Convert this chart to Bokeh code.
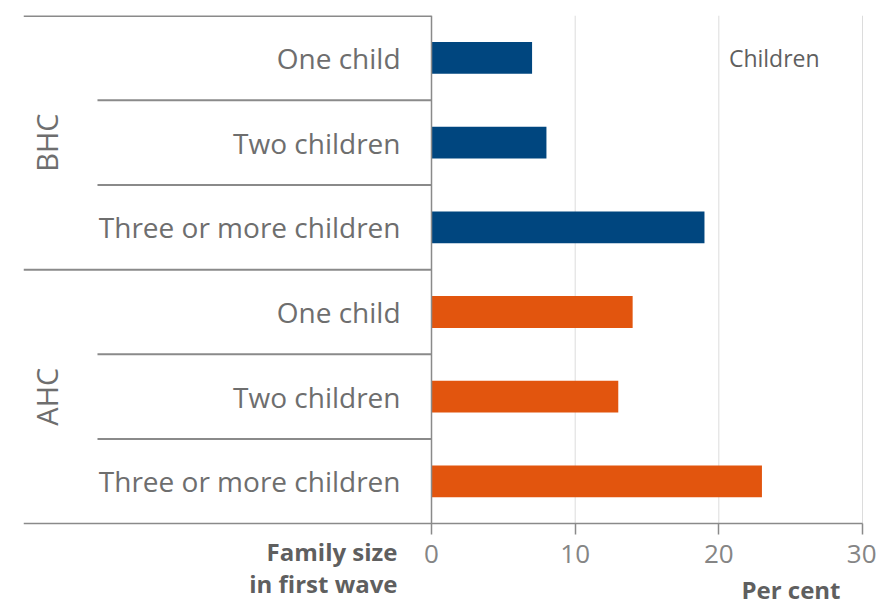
import math
from bokeh.plotting import figure
from bokeh.models import FactorRange, Range1d, FixedTicker, ColumnDataSource
from bokeh.core.properties import value
from bokeh.embed import file_html
from bokeh.resources import INLINE

# ---- data ----
groups = ["BHC", "AHC"]
family_sizes = ["One child", "Two children", "Three or more children"]
bhc_values = [7, 8, 19]
ahc_values = [14, 13, 23]
x_ticks = [0, 10, 20, 30]
series_label = "Children"
y_title = ["Family size", "in first wave"]
x_title = "Per cent"
group_colors = {"BHC": "#00467f", "AHC": "#e2550e"}

values_by_group = {"BHC": bhc_values, "AHC": ahc_values}

# factors listed bottom-to-top so that BHC / One child sits at the top
factors = [(g, s) for g in reversed(groups) for s in reversed(family_sizes)]
vals = [values_by_group[g][family_sizes.index(s)] for g, s in factors]
colors = [group_colors[g] for g, s in factors]

# an empty band under the table holds the axis titles
pad_factor = (" ", " ")
pad_top = pad_factor + (0.5,)

FONT = value("Open Sans")
W, H = 876, 608
X0, X1 = -28.4, 30.974          # a little room right of the last tick for its label
SUB_LINE_START = -23.25
LINE_COLOR = "#8a8a8a"
TEXT_COLOR = "#6e6e6e"
TITLE_COLOR = "#5f5f5f"

p = figure(width=W, height=H, output_backend="svg", toolbar_location=None,
           x_range=Range1d(X0, X1),
           y_range=FactorRange(factors=[pad_factor] + factors, factor_padding=0,
                               group_padding=0, subgroup_padding=0, range_padding=0),
           y_axis_location=None,
           min_border_left=23, min_border_right=0, min_border_top=15, min_border_bottom=0)
p.outline_line_color = None
p.xgrid.visible = False
p.ygrid.visible = False
p.background_fill_color = "white"

top_edge = (groups[0], family_sizes[0], 0.5)
bottom_edge = (groups[-1], family_sizes[-1], -0.5)

# vertical grid lines at the ticks (stop at the axis)
p.segment(x0=x_ticks[1:], y0=[bottom_edge] * len(x_ticks[1:]),
          x1=x_ticks[1:], y1=[top_edge] * len(x_ticks[1:]),
          line_color="#dcdcdc", line_width=1)

# axis, drawn on the boundary between the table and the empty band
xa = p.xaxis[0]
xa.fixed_location = float(len([pad_factor]))
xa.bounds = (X0, x_ticks[-1])
xa.ticker = FixedTicker(ticks=x_ticks)
xa.axis_line_color = LINE_COLOR
xa.axis_line_width = 1.5
xa.major_tick_line_color = LINE_COLOR
xa.major_tick_line_width = 1.5
xa.major_tick_out = 11
xa.major_tick_in = 0
xa.minor_tick_line_color = None
xa.major_label_text_font = "Open Sans"
xa.major_label_text_font_size = "26px"
xa.major_label_text_color = "#858585"
xa.major_label_standoff = 10

# bars
src = ColumnDataSource(dict(y=factors, v=vals, c=colors))
p.hbar(y="y", left=0, right="v", height=0.375, fill_color="c", line_color=None, source=src)

# vertical line at zero
p.segment(x0=[0], y0=[bottom_edge], x1=[0], y1=[top_edge], line_color=LINE_COLOR, line_width=1.5)

# table separator lines (built from categories)
seg_y, seg_x0, seg_w = [], [], []
seg_y.append(top_edge); seg_x0.append(X0); seg_w.append(3)
for gi, g in enumerate(groups):
    for s in family_sizes[:-1]:
        seg_y.append((g, s, -0.5)); seg_x0.append(SUB_LINE_START); seg_w.append(2)
    if gi < len(groups) - 1:
        seg_y.append((g, family_sizes[-1], -0.5)); seg_x0.append(X0); seg_w.append(2)
p.segment(x0="x0", y0="y", x1=0, y1="y", line_color=LINE_COLOR, line_width="w",
          source=ColumnDataSource(dict(x0=seg_x0, y=seg_y, w=seg_w)))

# category labels
p.text(x=0, y=factors, text=[s for g, s in factors], x_offset=-31,
       text_align="right", text_baseline="middle", text_font=FONT,
       text_font_size="28px", text_color=TEXT_COLOR)

# group labels (rotated)
p.text(x=X0, y=[(g, family_sizes[1]) for g in groups], text=groups, angle=math.pi / 2,
       x_offset=23, text_align="center", text_baseline="middle", text_font=FONT,
       text_font_size="29px", text_color=TEXT_COLOR)

# series label
p.text(x=20.7, y=[(groups[0], family_sizes[0])], text=[series_label],
       text_align="left", text_baseline="middle", text_font=FONT,
       text_font_size="23px", text_color=TITLE_COLOR)

# axis titles
p.text(x=[0, 0, x_ticks[-1]], y=[pad_top] * 3, text=y_title + [x_title],
       x_offset=[-34, -34, -22], y_offset=[28, 60, 66],
       text_align="right", text_baseline="middle", text_font=FONT,
       text_font_style="bold", text_font_size="24px", text_color=TITLE_COLOR)

open("out.html", "w").write(file_html(p, INLINE))
